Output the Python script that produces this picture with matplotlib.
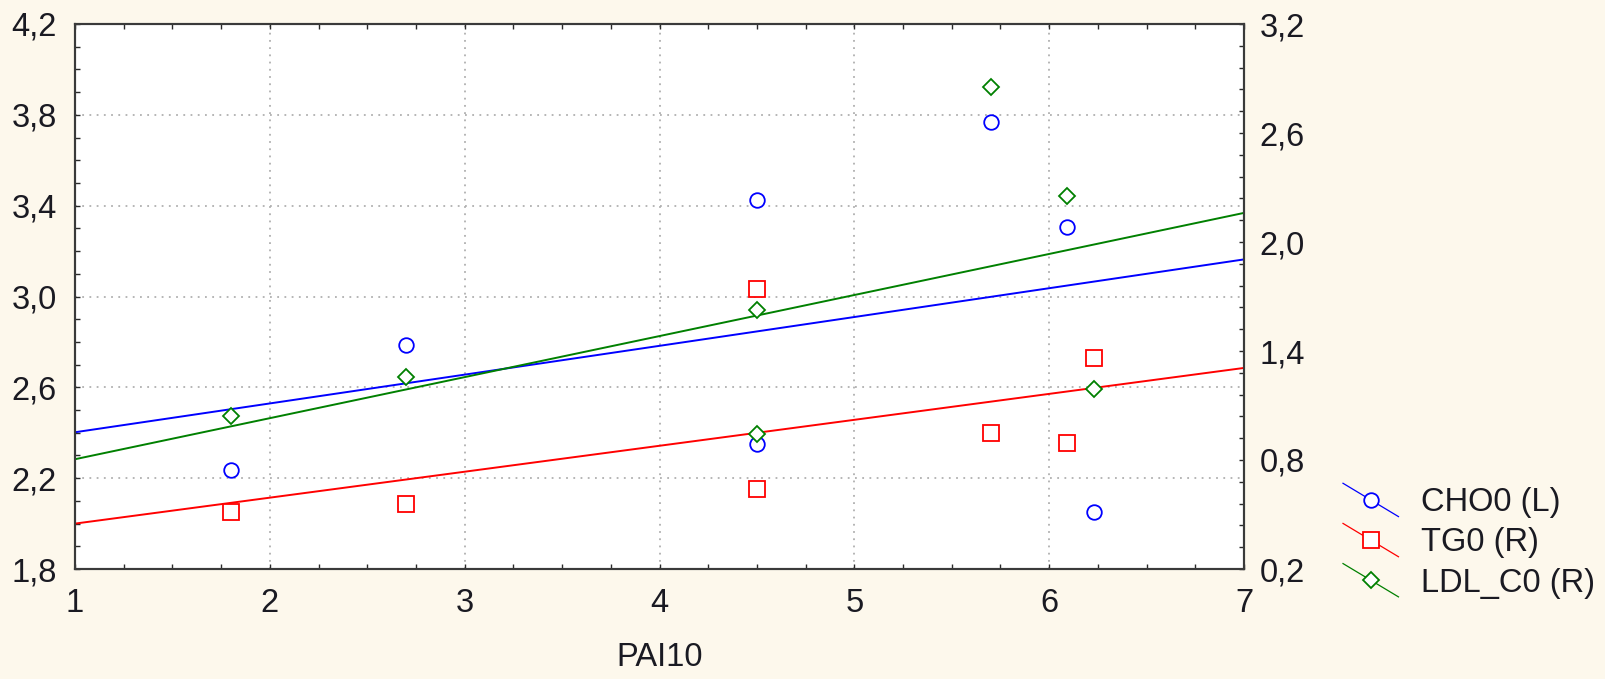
import numpy as np
import matplotlib
matplotlib.use('Agg')
import matplotlib.pyplot as plt
from matplotlib.lines import Line2D
from matplotlib.legend_handler import HandlerLine2D
from matplotlib.ticker import MultipleLocator, FuncFormatter

plt.rcParams['font.family'] = ['Liberation Sans', 'DejaVu Sans']

# data
pai10 = [1.8, 2.7, 4.5, 4.5, 5.7, 6.09, 6.23]
cho0 = [2.237, 2.786, 3.425, 2.35, 3.77, 3.306, 2.052]      # left axis
tg0 = [0.512, 0.56, 1.741, 0.639, 0.947, 0.892, 1.36]       # right axis
ldl_c0 = [1.044, 1.259, 1.626, 0.943, 2.853, 2.255, 1.191]  # right axis

BG = '#fdf8ec'
TXT = '#1a1a22'
FS = 23.5


class SlantHandler(HandlerLine2D):
    '''
    legend handle drawn as a slanted line with the marker in the middle
    '''
    def create_artists(self, legend, orig_handle, xdescent, ydescent,
                       width, height, fontsize, trans):
        xs = np.array([0, width]) - xdescent
        mid = height / 2 - ydescent
        drop = 12
        line = Line2D(xs, [mid + drop, mid - drop])
        self.update_prop(line, orig_handle, legend)
        line.set_marker('None')
        line.set_linewidth(0.9)
        mark = Line2D([xs.mean()], [mid])
        self.update_prop(mark, orig_handle, legend)
        mark.set_linestyle('None')
        line.set_transform(trans)
        mark.set_transform(trans)
        return [line, mark]


def comma(v, pos):
    return ('%.1f' % v).replace('.', ',')


def fitLine(ax, x, y, color):
    k, b = np.polyfit(x, y, 1)
    xs = np.array([1, 7])
    ax.plot(xs, k * xs + b, color=color, lw=1.4, zorder=2)


fig = plt.figure(figsize=(16.05, 6.79), dpi=100, facecolor=BG)
ax = fig.add_axes([75 / 1605, 110 / 679, 1169 / 1605, 545 / 679])
ax.set_facecolor('white')
ax2 = ax.twinx()

mk = dict(mfc='white', mew=1.3, ls='None', zorder=3)
fitLine(ax, pai10, cho0, 'blue')
ax.plot(pai10, cho0, marker='o', ms=10.5, mec='blue', **mk)
fitLine(ax2, pai10, tg0, 'red')
fitLine(ax2, pai10, ldl_c0, 'green')
ax2.plot(pai10, tg0, marker='s', ms=11, mec='red', **mk)
ax2.plot(pai10, ldl_c0, marker='D', ms=7.8, mec='green', **mk)

ax.set_xlim(1, 7)
ax.set_ylim(1.8, 4.2)
ax2.set_ylim(0.2, 3.2)

ax.xaxis.set_major_locator(MultipleLocator(1))
ax.xaxis.set_minor_locator(MultipleLocator(0.25))
ax.yaxis.set_major_locator(MultipleLocator(0.4, offset=0.2))
ax.yaxis.set_minor_locator(MultipleLocator(0.1))
ax2.yaxis.set_major_locator(MultipleLocator(0.6, offset=0.2))
ax2.yaxis.set_minor_locator(MultipleLocator(0.12, offset=0.08))
ax.yaxis.set_major_formatter(FuncFormatter(comma))
ax2.yaxis.set_major_formatter(FuncFormatter(comma))

ax.grid(True, which='major', color='#b0b0b0', ls=(0, (1, 3)), lw=1.3)

for a in (ax, ax2):
    for s in a.spines.values():
        s.set_color('#3a3a3a')
        s.set_linewidth(1.5)
ax.tick_params(which='both', direction='in', length=3.5, width=1,
               color='#2a2a2a', labelsize=FS, labelcolor=TXT,
               top=True, right=False)
ax.tick_params(axis='x', pad=14)
ax.tick_params(axis='y', pad=13)
ax2.tick_params(which='both', direction='in', length=3.5, width=1,
                color='#2a2a2a', labelsize=FS, labelcolor=TXT, pad=11)

ax.set_xlabel('PAI10', fontsize=FS, color=TXT, labelpad=16)

handles = [
    Line2D([], [], color='blue', marker='o', ms=10.5, mfc='white', mec='blue', mew=1.3),
    Line2D([], [], color='red', marker='s', ms=11, mfc='white', mec='red', mew=1.3),
    Line2D([], [], color='green', marker='D', ms=7.8, mfc='white', mec='green', mew=1.3),
]
labels = ['CHO0 (L)', 'TG0 (R)', 'LDL_C0 (R)']
fig.legend(handles, labels, handler_map={Line2D: SlantHandler()},
           loc='center left', bbox_to_anchor=(1343 / 1605, 1 - 543 / 679),
           frameon=False, fontsize=FS, labelcolor=TXT,
           handlelength=1.7, handletextpad=0.7, labelspacing=0.28,
           borderpad=0, borderaxespad=0)

fig.savefig('out.png', dpi=100, facecolor=BG)
